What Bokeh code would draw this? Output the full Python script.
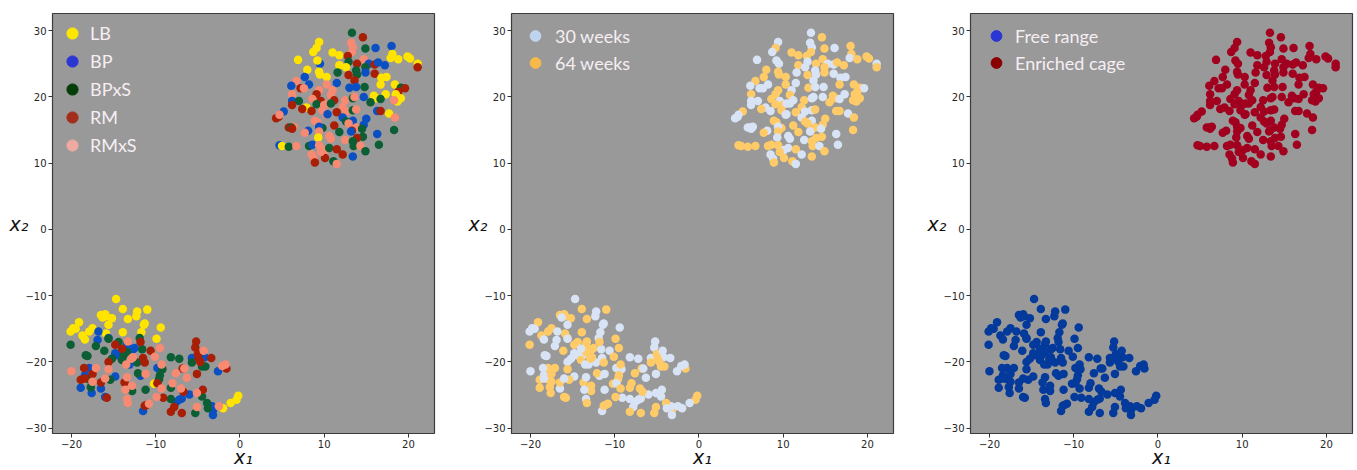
from bokeh.plotting import figure
from bokeh.models import Range1d, FixedTicker, Legend, LegendItem, ColumnDataSource
from bokeh.layouts import row
from bokeh.embed import file_html
from bokeh.resources import INLINE

# ---------------- data ----------------
BREEDS = ["LB", "BP", "BPxS", "RM", "RMxS"]
AGES = ["30 weeks", "64 weeks"]
HOUSING = ["Free range", "Enriched cage"]
X_TICKS = [-20, -10, 0, 10, 20]
Y_TICKS = [-30, -20, -10, 0, 10, 20, 30]

# upper cluster (enriched cage)
upper_x = [13.3, 14.6, 9.4, 13.2, 13.4, 13.3, 14.9, 16.1, 18.0, 9.1,
           8.7, 11.0, 11.8, 6.9, 12.8, 14.7, 18.1, 17.9, 18.8, 19.9,
           20.2, 21.1, 21.1, 9.5, 9.2, 12.9, 13.9, 15.3, 14.9, 16.0,
           16.4, 17.2, 11.8, 12.6, 8.0, 11.6, 9.4, 9.5, 13.8, 13.9,
           14.9, 16.0, 12.9, 7.7, 10.3, 6.7, 8.2, 11.5, 13.6, 16.8,
           17.4, 6.1, 16.7, 18.4, 10.3, 13.0, 13.8, 14.8, 7.2, 7.6,
           9.4, 11.0, 10.8, 19.1, 19.6, 18.8, 6.2, 9.1, 15.9, 16.2,
           17.3, 18.5, 19.1, 18.7, 18.3, 6.2, 7.0, 8.6, 9.6, 11.2,
           12.5, 13.4, 13.6, 14.7, 15.5, 16.7, 6.2, 9.1, 10.0, 10.4,
           10.8, 12.2, 7.9, 7.4, 8.5, 9.8, 11.5, 12.6, 13.4, 13.8,
           16.3, 16.7, 5.2, 4.6, 4.3, 4.7, 10.3, 10.4, 12.2, 17.7,
           18.4, 15.0, 8.9, 9.2, 13.4, 12.6, 14.7, 11.2, 12.9, 6.4,
           5.8, 6.1, 6.2, 9.8, 9.4, 13.8, 13.3, 14.5, 18.3, 8.1,
           7.7, 9.4, 11.8, 13.2, 16.3, 14.6, 9.3, 10.6, 10.8, 12.5,
           13.9, 13.4, 13.5, 4.7, 5.0, 5.8, 6.7, 8.2, 8.6, 9.4,
           10.1, 10.6, 11.5, 14.3, 16.5, 8.5, 8.8, 8.9, 10.1, 11.1,
           11.5, 12.2, 13.4, 14.9, 9.6]
upper_y = [29.7, 29.0, 28.3, 28.2, 27.5, 26.8, 27.3, 27.4, 27.7, 27.4,
           26.8, 26.7, 26.3, 25.6, 26.2, 25.7, 26.5, 25.9, 25.7, 26.1,
           25.8, 25.0, 24.5, 25.0, 25.5, 25.3, 25.0, 25.0, 24.5, 24.9,
           25.2, 24.8, 24.8, 24.5, 24.1, 23.7, 23.8, 23.4, 24.0, 23.4,
           23.7, 23.5, 23.3, 23.0, 23.0, 22.4, 21.9, 22.1, 22.5, 22.9,
           23.0, 21.7, 21.9, 21.9, 21.9, 21.4, 21.5, 21.5, 21.3, 21.3,
           21.0, 21.0, 20.3, 21.4, 21.3, 20.8, 20.4, 20.4, 20.2, 19.8,
           20.4, 20.4, 19.8, 19.3, 19.5, 19.4, 19.4, 19.7, 19.4, 19.5,
           19.5, 19.8, 20.0, 20.0, 19.2, 19.7, 18.8, 18.9, 18.8, 19.0,
           19.0, 18.5, 18.4, 18.2, 17.9, 18.0, 17.7, 17.8, 18.0, 18.1,
           17.9, 17.9, 17.8, 17.0, 16.8, 17.3, 17.3, 17.4, 16.9, 17.5,
           16.9, 16.7, 16.4, 16.2, 16.4, 16.3, 15.8, 15.7, 16.0, 15.5,
           15.4, 15.4, 15.2, 15.3, 15.5, 15.4, 14.9, 15.2, 15.0, 14.9,
           14.6, 14.8, 14.7, 14.8, 14.4, 14.0, 13.9, 14.1, 13.7, 13.5,
           13.8, 13.3, 12.6, 12.7, 12.6, 12.5, 12.6, 12.6, 12.8, 12.7,
           12.0, 12.3, 12.1, 12.6, 12.8, 11.3, 10.7, 10.1, 10.8, 10.3,
           9.9, 11.3, 11.0, 11.8, 11.7]
upper_breed = ["BPxS", "RM", "LB", "RMxS", "RMxS", "RMxS", "BPxS", "BP", "BP", "LB",
               "LB", "LB", "LB", "LB", "RM", "RMxS", "LB", "LB", "LB", "LB",
               "LB", "LB", "RM", "BP", "LB", "BPxS", "RM", "BP", "BPxS", "RM",
               "BP", "BP", "LB", "LB", "LB", "BPxS", "LB", "LB", "BPxS", "BPxS",
               "BP", "RM", "RM", "BP", "LB", "RMxS", "BP", "BP", "RM", "LB",
               "LB", "BP", "LB", "LB", "RMxS", "BP", "BP", "BPxS", "RM", "RMxS",
               "RMxS", "RMxS", "RMxS", "BPxS", "RM", "RM", "RMxS", "RM", "LB", "LB",
               "LB", "LB", "LB", "LB", "RMxS", "BP", "BPxS", "RMxS", "RM", "RM",
               "RMxS", "BPxS", "RMxS", "BP", "BPxS", "BPxS", "RM", "BPxS", "RMxS", "RMxS",
               "BPxS", "RMxS", "LB", "RM", "RM", "RMxS", "RM", "RMxS", "BPxS", "RMxS",
               "BP", "RM", "BP", "RM", "RM", "RMxS", "RMxS", "BP", "BP", "LB",
               "RMxS", "BP", "RMxS", "RMxS", "BP", "BPxS", "BP", "RM", "RMxS", "RMxS",
               "RM", "BPxS", "RM", "BPxS", "BP", "RMxS", "RM", "BPxS", "BPxS", "BP",
               "RMxS", "RMxS", "BPxS", "BP", "BP", "BPxS", "LB", "RMxS", "RMxS", "RMxS",
               "RM", "BPxS", "BPxS", "BP", "LB", "BPxS", "RMxS", "BPxS", "BP", "RMxS",
               "RMxS", "BPxS", "RM", "RMxS", "BPxS", "RMxS", "RMxS", "RM", "RM", "BPxS",
               "RMxS", "RM", "BP", "BPxS", "RMxS"]
upper_age = [30, 64, 30, 30, 30, 64, 64, 30, 64, 64,
             30, 64, 64, 30, 64, 64, 64, 30, 64, 64,
             64, 30, 64, 30, 30, 30, 64, 30, 64, 30,
             64, 64, 64, 30, 64, 30, 64, 64, 30, 30,
             64, 30, 64, 64, 64, 64, 30, 30, 30, 30,
             30, 30, 64, 64, 64, 64, 30, 30, 30, 30,
             64, 30, 64, 64, 30, 64, 64, 64, 64, 64,
             30, 64, 64, 64, 64, 30, 30, 64, 30, 30,
             64, 30, 30, 30, 64, 30, 30, 64, 64, 30,
             30, 64, 30, 64, 30, 64, 64, 30, 30, 64,
             64, 64, 64, 30, 30, 30, 30, 30, 30, 30,
             64, 64, 64, 64, 30, 64, 64, 64, 64, 30,
             30, 30, 30, 64, 30, 64, 64, 30, 64, 30,
             64, 64, 64, 30, 30, 64, 30, 30, 30, 30,
             64, 64, 64, 64, 64, 64, 64, 64, 64, 64,
             30, 30, 64, 30, 30, 30, 30, 64, 64, 64,
             30, 30, 64, 64, 64]

# lower cluster (free range), one group of lists per breed
lb_x = [-14.7, -13.9, -12.2, -11.0, -12.3, -16.5, -16.0, -15.9, -16.3, -15.2,
        -13.3, -11.3, -11.4, -15.6, -19.1, -19.8, -20.1, -19.5, -17.5, -17.9,
        -9.4, -18.7, -18.4, -15.9, -13.9, -11.7, -9.9, -10.2, -0.2, -0.4,
        -1.1, -2.0]
lb_y = [-10.5, -12.0, -12.4, -12.1, -13.1, -12.9, -12.8, -13.1, -13.3, -13.4,
        -13.5, -14.2, -14.4, -14.4, -14.0, -14.9, -15.4, -15.0, -14.9, -15.4,
        -14.8, -16.0, -16.6, -15.7, -15.5, -15.5, -16.5, -23.3, -25.1, -25.7,
        -26.2, -27.0]
lb_age = [30, 64, 30, 64, 30, 64, 64, 64, 30, 64,
          64, 30, 30, 30, 64, 30, 30, 30, 64, 64,
          30, 64, 30, 64, 64, 30, 64, 64, 64, 64,
          30, 30]

bp_x = [-16.8, -16.9, -15.6, -13.4, -12.5, -12.7, -14.8, -14.5, -5.7, -4.2,
        -17.9, -9.8, -18.4, -11.8, -13.1, -16.5, -17.6, -18.9, -2.6, -6.0,
        -7.6, -7.2, -6.9, -11.5, -3.2, -3.2, -3.3, -16.0, -14.8]
bp_y = [-15.4, -16.7, -16.4, -17.3, -17.9, -18.1, -18.7, -19.0, -19.4, -19.3,
        -20.9, -20.9, -22.0, -22.1, -20.4, -24.0, -24.7, -23.9, -21.4, -24.9,
        -26.1, -25.7, -25.5, -27.4, -27.3, -28.0, -26.7, -25.3, -22.2]
bp_age = [30, 30, 64, 64, 64, 64, 30, 30, 30, 30,
          64, 30, 30, 30, 30, 30, 64, 64, 30, 30,
          30, 30, 30, 30, 64, 30, 30, 64, 30]

bpxs_x = [-20.1, -17.1, -16.1, -15.6, -14.4, -18.3, -18.1, -15.2, -13.8, -11.6,
          -11.9, -13.4, -12.2, -8.2, -7.2, -14.0, -5.7, -4.5, -4.1, -9.2,
          -9.5, -9.6, -12.1, -15.4, -17.9, -17.7, -11.2, -12.8, -8.2, -8.2,
          -4.5, -3.9, -3.8, -5.3]
bpxs_y = [-17.4, -17.6, -18.3, -16.5, -17.0, -19.0, -19.1, -19.5, -19.0, -18.1,
          -16.4, -18.5, -20.1, -19.3, -19.5, -19.7, -20.1, -20.7, -20.7, -21.1,
          -22.0, -22.6, -21.7, -22.7, -22.6, -23.8, -24.2, -24.4, -23.9, -25.6,
          -25.2, -26.2, -27.0, -27.7]
bpxs_age = [64, 30, 64, 30, 64, 30, 30, 30, 30, 30,
            30, 64, 30, 30, 30, 64, 64, 64, 64, 30,
            64, 64, 64, 64, 64, 64, 30, 64, 64, 30,
            30, 64, 30, 64]

rm_x = [-14.8, -14.0, -11.8, -10.6, -11.5, -11.3, -15.6, -5.2, -5.3, -5.0,
        -4.9, -4.7, -3.4, -18.5, -18.9, -18.4, -16.5, -17.5, -13.7, -6.8,
        -5.1, -1.6, -4.4, -6.7, -9.1, -15.8, -11.1, -11.3, -7.8, -8.2,
        -6.9, -9.8]
rm_y = [-17.4, -18.0, -17.0, -18.3, -19.4, -20.1, -20.0, -16.9, -17.8, -18.8,
        -19.5, -20.0, -19.4, -20.9, -22.7, -22.5, -23.1, -21.8, -23.1, -21.0,
        -21.8, -21.0, -24.2, -24.5, -25.4, -25.4, -26.5, -26.6, -26.8, -27.5,
        -27.7, -23.2]
rm_age = [64, 30, 64, 30, 30, 64, 30, 30, 30, 64,
          64, 64, 30, 30, 64, 30, 64, 64, 64, 64,
          30, 64, 30, 64, 30, 64, 64, 64, 30, 64,
          64, 30]

rmxs_x = [-13.3, -9.5, -10.1, -12.7, -15.6, -17.1, -20.0, -12.9, -13.5, -9.3,
          -6.6, -11.2, -7.6, -6.3, -4.3, -13.4, -16.0, -17.5, -8.0, -12.8,
          -13.6, -9.3, -7.0, -5.1, -9.9, -13.4, -13.3, -10.8, -5.1, -2.5,
          -2.1, -1.7]
rmxs_y = [-16.9, -17.9, -19.2, -19.3, -21.1, -20.9, -21.4, -19.5, -20.4, -20.4,
          -21.0, -21.8, -21.7, -22.4, -18.3, -22.3, -22.5, -23.0, -23.2, -23.6,
          -24.2, -24.0, -24.0, -24.7, -25.3, -25.6, -26.2, -26.3, -26.8, -26.7,
          -20.6, -20.4]
rmxs_age = [64, 64, 64, 64, 64, 64, 30, 64, 30, 64,
            30, 30, 64, 30, 30, 30, 30, 64, 64, 64,
            30, 64, 64, 30, 64, 30, 64, 64, 64, 30,
            30, 30]

# ---------------- styles ----------------
BREED_COLORS = {"LB": "#ffe400", "BP": "#0a50c2", "BPxS": "#0c5f35", "RM": "#a81f06", "RMxS": "#f78a72"}
BREED_LEGEND = {"LB": "#ffe800", "BP": "#2a36d4", "BPxS": "#053d08", "RM": "#a32c1a", "RMxS": "#eeaaa2"}
AGE_COLORS = {30: "#d8e4f5", 64: "#fecb68"}
AGE_LEGEND = {"30 weeks": "#bfd4ee", "64 weeks": "#f9b84a"}
HOUSE_COLORS = {"Free range": "#033a9c", "Enriched cage": "#a1001f"}
HOUSE_LEGEND = {"Free range": "#2a36d4", "Enriched cage": "#8a0000"}

X_RANGE = (-22.25, 23.1)
Y_RANGE = (-30.8, 32.6)

# ---------------- assemble points ----------------
lower_groups = [("LB", lb_x, lb_y, lb_age), ("BP", bp_x, bp_y, bp_age),
                ("BPxS", bpxs_x, bpxs_y, bpxs_age), ("RM", rm_x, rm_y, rm_age),
                ("RMxS", rmxs_x, rmxs_y, rmxs_age)]

xs, ys, breeds, ages, houses = [], [], [], [], []
for x, y, b, a in zip(upper_x, upper_y, upper_breed, upper_age):
    xs.append(x); ys.append(y); breeds.append(b); ages.append(a); houses.append("Enriched cage")
for b, gx, gy, ga in lower_groups:
    for x, y, a in zip(gx, gy, ga):
        xs.append(x); ys.append(y); breeds.append(b); ages.append(a); houses.append("Free range")

source = ColumnDataSource(dict(
    x=xs, y=ys,
    c_breed=[BREED_COLORS[b] for b in breeds],
    c_age=[AGE_COLORS[a] for a in ages],
    c_house=[HOUSE_COLORS[h] for h in houses],
))

MINUS = "\u2212"
NAN = float("nan")


def make_panel(width, right_border):
    p = figure(width=width, height=470,
               x_range=Range1d(*X_RANGE), y_range=Range1d(*Y_RANGE),
               output_backend="svg", toolbar_location=None,
               min_border_left=52, min_border_right=right_border,
               min_border_top=13, min_border_bottom=30)
    p.background_fill_color = "#999999"
    p.border_fill_color = "white"
    p.outline_line_color = "#3c3c3c"
    p.outline_line_width = 1.2
    p.grid.visible = False
    for ax, ticks in ((p.xaxis[0], X_TICKS), (p.yaxis[0], Y_TICKS)):
        ax.ticker = FixedTicker(ticks=ticks)
        ax.major_label_overrides = {t: (MINUS + str(-t) if t < 0 else str(t)) for t in ticks}
        ax.axis_line_color = None
        ax.major_tick_line_color = "#333333"
        ax.major_tick_out = 4
        ax.major_tick_in = 0
        ax.minor_tick_line_color = None
        ax.major_label_text_font = "DejaVu Sans"
        ax.major_label_text_font_size = "10px"
        ax.major_label_text_color = "#262626"
        ax.major_label_standoff = 2
        ax.axis_label_text_font = "DejaVu Sans"
        ax.axis_label_text_font_style = "italic"
        ax.axis_label_text_font_size = "19px"
        ax.axis_label_text_color = "#111111"
    p.xaxis.axis_label = "x\u2081"
    p.xaxis.axis_label_standoff = -5
    p.yaxis.axis_label = "x\u2082"
    p.yaxis.axis_label_orientation = "horizontal"
    p.yaxis.axis_label_standoff = -6
    return p


def add_legend(p, entries, margin, standoff, gw, gh):
    items = []
    for label, color in entries:
        r = p.scatter(x=[NAN], y=[NAN], size=10, fill_color=color, line_color=color)
        items.append(LegendItem(label=label, renderers=[r]))
    leg = Legend(items=items, location="top_left", margin=margin, padding=4,
                 glyph_width=gw, glyph_height=gh, label_height=gh, spacing=0,
                 label_standoff=standoff, label_text_font="Lato",
                 label_text_font_size="18px", label_text_color="#f6eef3",
                 background_fill_alpha=0, border_line_alpha=0)
    p.add_layout(leg)


DOT = 8.5

p1 = make_panel(459, 25)
p1.scatter("x", "y", source=source, size=DOT, fill_color="c_breed", line_color=None)
add_legend(p1, [(b, BREED_LEGEND[b]) for b in BREEDS], margin=2, standoff=4, gw=28, gh=28)

p2 = make_panel(459, 25)
p2.scatter("x", "y", source=source, size=DOT, fill_color="c_age", line_color=None)
add_legend(p2, [(a, AGE_LEGEND[a]) for a in AGES], margin=5, standoff=5, gw=30, gh=27)

p3 = make_panel(438, 4)
p3.scatter("x", "y", source=source, size=DOT, fill_color="c_house", line_color=None)
add_legend(p3, [(h, HOUSE_LEGEND[h]) for h in HOUSING], margin=5, standoff=2, gw=34, gh=27)

layout = row(p1, p2, p3)
open("out.html", "w").write(file_html(layout, INLINE))
